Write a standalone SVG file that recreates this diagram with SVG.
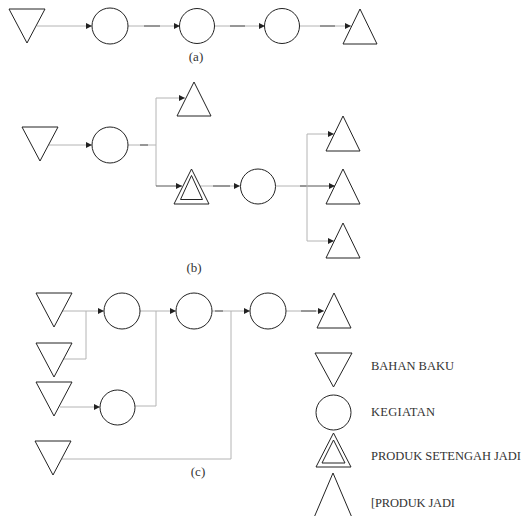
<svg xmlns="http://www.w3.org/2000/svg" width="525" height="516" viewBox="0 0 525 516">
<style>
.s{fill:none;stroke:#222;stroke-width:1}
.c{fill:none;stroke:#b4b4b4;stroke-width:1}
.d{fill:none;stroke:#555;stroke-width:1}
.t{font-family:"Liberation Serif","Times New Roman",serif;font-size:12.5px;fill:#333}
.l{font-family:"Liberation Serif","Times New Roman",serif;font-size:13px;fill:#333;text-anchor:middle}
</style>
<defs>
<marker id="a" markerUnits="userSpaceOnUse" markerWidth="6" markerHeight="6" refX="6" refY="3" orient="auto">
<path d="M0,0 L6,3 L0,6 z" fill="#222"/>
</marker>
</defs>
<rect width="525" height="516" fill="#fff"/>
<g id="connectors">
<!-- (a) -->
<line class="c" x1="37" y1="26" x2="92" y2="26" marker-end="url(#a)"/>
<line class="c" x1="128" y1="26" x2="180" y2="26" marker-end="url(#a)"/>
<line class="d" x1="144" y1="26" x2="160" y2="26"/>
<line class="c" x1="214" y1="26" x2="265" y2="26" marker-end="url(#a)"/>
<line class="d" x1="230" y1="26" x2="245" y2="26"/>
<line class="c" x1="300" y1="26" x2="351" y2="26" marker-end="url(#a)"/>
<line class="d" x1="320" y1="26" x2="335" y2="26"/>
<!-- (b) -->
<line class="c" x1="49" y1="145" x2="92" y2="145" marker-end="url(#a)"/>
<polyline class="c" points="128,145 156,145"/>
<line class="d" x1="140" y1="145" x2="148" y2="145"/>
<polyline class="c" points="156,145 156,98 185,98" marker-end="url(#a)"/>
<polyline class="c" points="156,145 156,186"/>
<line class="d" x1="156" y1="186" x2="182" y2="186" marker-end="url(#a)"/>
<line class="c" x1="200" y1="186" x2="240" y2="186" marker-end="url(#a)"/>
<line class="d" x1="213" y1="186" x2="230" y2="186"/>
<line class="c" x1="276" y1="186" x2="307" y2="186"/>
<line class="d" x1="300" y1="186" x2="335" y2="186" marker-end="url(#a)"/>
<polyline class="c" points="307,186 307,134 334,134" marker-end="url(#a)"/>
<polyline class="c" points="307,186 307,241 334,241" marker-end="url(#a)"/>
<!-- (c) -->
<line class="c" x1="62" y1="311" x2="104" y2="311" marker-end="url(#a)"/>
<polyline class="c" points="63,359 86,359 86,311"/>
<line class="c" x1="140" y1="311" x2="176" y2="311" marker-end="url(#a)"/>
<polyline class="c" points="135,406 156,406 156,311"/>
<line class="c" x1="60" y1="407" x2="100" y2="407" marker-end="url(#a)"/>
<line class="c" x1="212" y1="311" x2="250" y2="311" marker-end="url(#a)"/>
<line class="d" x1="215" y1="311" x2="223" y2="311"/>
<polyline class="c" points="62,459 231,459 231,311"/>
<line class="c" x1="286" y1="311" x2="324" y2="311" marker-end="url(#a)"/>
<line class="d" x1="301" y1="311" x2="316" y2="311"/>
</g>
<!-- (a) nodes -->
<g id="a_raw"><polygon class="s" points="9,9 45,9 27,43"/></g>
<g id="a_k1"><circle class="s" cx="110" cy="26" r="18"/></g>
<g id="a_k2"><circle class="s" cx="197" cy="26" r="17.5"/></g>
<g id="a_k3"><circle class="s" cx="282" cy="26" r="17.5"/></g>
<g id="a_prod"><polygon class="s" points="360,9 377,44 343,44"/></g>
<text class="l" x="196" y="61">(a)</text>
<!-- (b) nodes -->
<g id="b_raw"><polygon class="s" points="22,127 58,127 40,161"/></g>
<g id="b_k1"><circle class="s" cx="110" cy="145" r="18"/></g>
<g id="b_prod1"><polygon class="s" points="194,82 211,116 177,116"/></g>
<g id="b_semi"><polygon class="s" points="191.5,169 209,204 174,204"/><polygon class="s" points="191.5,175.5 202.5,199.5 180.5,199.5"/></g>
<g id="b_k2"><circle class="s" cx="258" cy="186.5" r="17.5"/></g>
<g id="b_prod2"><polygon class="s" points="343,116 360,151 326,151"/></g>
<g id="b_prod3"><polygon class="s" points="343,169 360,204 326,204"/></g>
<g id="b_prod4"><polygon class="s" points="343,223 360,258 326,258"/></g>
<text class="l" x="194" y="272">(b)</text>
<!-- (c) nodes -->
<g id="c_raw1"><polygon class="s" points="36,293 72,293 54,327"/></g>
<g id="c_raw2"><polygon class="s" points="36,343 72,343 54,377"/></g>
<g id="c_raw3"><polygon class="s" points="36,382 72,382 54,416"/></g>
<g id="c_raw4"><polygon class="s" points="35,441 71,441 53,475"/></g>
<g id="c_k1"><circle class="s" cx="122" cy="311" r="18"/></g>
<g id="c_k2"><circle class="s" cx="194" cy="311" r="18"/></g>
<g id="c_k3"><circle class="s" cx="268" cy="311" r="18"/></g>
<g id="c_k4"><circle class="s" cx="117.5" cy="407.5" r="17.5"/></g>
<g id="c_prod"><polygon class="s" points="334,293 351,328 317,328"/></g>
<text class="l" x="198" y="476">(c)</text>
<!-- legend -->
<g id="leg_raw"><polygon class="s" points="315,353 352,353 333.5,387"/><text class="t" x="371" y="370" textLength="83">BAHAN BAKU</text></g>
<g id="leg_keg"><circle class="s" cx="333.5" cy="412.5" r="17.5"/><text class="t" x="371" y="416" textLength="64">KEGIATAN</text></g>
<g id="leg_semi"><polygon class="s" points="333.5,433 351,467 316,467"/><polygon class="s" points="333.5,440 345,463 322,463"/><text class="t" x="371" y="460" textLength="150">PRODUK SETENGAH JADI</text></g>
<g id="leg_prod"><polygon class="s" points="333,473 353,520 313,520"/><text class="t" x="371" y="507" textLength="84">[PRODUK JADI</text></g>
</svg>
